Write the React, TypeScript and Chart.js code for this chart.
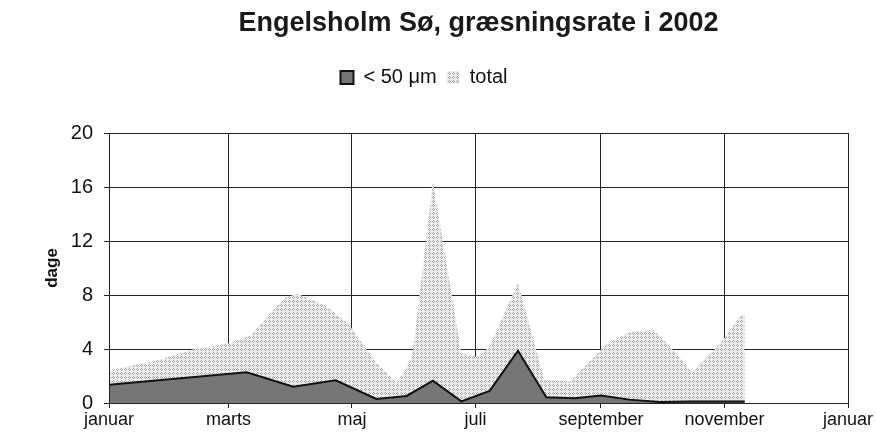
import React, { useEffect, useRef } from 'react';
import { Chart, registerables } from 'chart.js';

Chart.register(...registerables);

// x axis: day of year 2002 (0 = 1 januar)
const monthTicks = [0, 59, 120, 181, 243, 304, 365];
const monthLabels = ['januar', 'marts', 'maj', 'juli', 'september', 'november', 'januar'];
const yTicks = [0, 4, 8, 12, 16, 20];

// series "< 50 µm"
const smallDays = [0, 68, 91, 112, 132, 147, 160, 174, 188, 202, 216, 230, 243, 257, 272, 287, 314];
const smallValues = [1.35, 2.27, 1.2, 1.68, 0.3, 0.52, 1.65, 0.12, 0.9, 3.87, 0.42, 0.35, 0.55, 0.25, 0.08, 0.12, 0.12];

// series "total"
const totalDays = [0, 25, 42, 59, 70, 80, 87, 93, 107, 118, 132, 142, 147, 150, 160, 174, 182, 188, 202, 215, 228, 236, 246, 258, 269, 277, 288, 302, 312, 314];
const totalValues = [2.4, 3.2, 4.0, 4.4, 5.0, 6.7, 7.8, 8.1, 7.2, 5.9, 3.0, 1.5, 2.6, 3.7, 16.4, 3.7, 3.4, 4.2, 8.9, 1.7, 1.6, 2.9, 4.4, 5.3, 5.4, 4.2, 2.3, 4.4, 6.5, 6.6];

const FONT = "'Liberation Sans', Arial, sans-serif";

function makeDotPattern(ctx: CanvasRenderingContext2D): CanvasPattern | string {
  const tile = document.createElement('canvas');
  tile.width = 4;
  tile.height = 4;
  const t = tile.getContext('2d');
  if (!t) return '#dadada';
  t.fillStyle = '#ededed';
  t.fillRect(0, 0, 4, 4);
  t.fillStyle = '#a6a6a6';
  [[1, 0], [0, 1], [2, 1], [1, 2]].forEach(([x, y]) => t.fillRect(x, y, 1, 1));
  return ctx.createPattern(tile, 'repeat') || '#dadada';
}

export default function App() {
  const ref = useRef<HTMLCanvasElement>(null);

  useEffect(() => {
    const canvas = ref.current;
    if (!canvas) return;
    const ctx = canvas.getContext('2d');
    if (!ctx) return;
    const pattern = makeDotPattern(ctx);

    const frame = {
      id: 'frame',
      afterDraw(chart: any) {
        const c = chart.ctx;
        const a = chart.chartArea;
        c.save();
        c.strokeStyle = '#222';
        c.lineWidth = 1;
        c.strokeRect(Math.round(a.left) + 0.5, Math.round(a.top) + 0.5, Math.round(a.right - a.left), Math.round(a.bottom - a.top));
        c.restore();
      },
    };

    const chart = new Chart(canvas, {
      type: 'line',
      data: {
        datasets: [
          {
            label: '< 50 μm',
            data: smallDays.map((d, i) => ({ x: d, y: smallValues[i] })),
            backgroundColor: '#767676',
            borderColor: '#111',
            borderWidth: 2,
            fill: 'origin',
            pointRadius: 0,
            tension: 0,
          },
          {
            label: 'total',
            data: totalDays.map((d, i) => ({ x: d, y: totalValues[i] })),
            backgroundColor: pattern as any,
            borderColor: 'rgba(0,0,0,0)',
            borderWidth: 0,
            fill: 'origin',
            pointRadius: 0,
            tension: 0,
          },
        ],
      },
      options: {
        responsive: false,
        animation: false,
        events: [],
        layout: { padding: { left: 0, right: 28, top: 0, bottom: 0 } },
        plugins: {
          tooltip: { enabled: false },
          title: {
            display: true,
            text: 'Engelsholm Sø, græsningsrate i 2002',
            fullSize: false,
            color: '#1a1a1a',
            font: { family: FONT, size: 27, weight: 'bold' },
            padding: { top: 7.8, bottom: 17.3 },
          },
          subtitle: {
            display: true,
            text: '',
            weight: 500,
            font: { size: 10 },
            padding: { top: 0, bottom: 23.5 },
          },
          legend: {
            display: true,
            position: 'top',
            labels: {
              boxWidth: 13,
              boxHeight: 13,
              padding: 10,
              color: '#111',
              font: { family: FONT, size: 20 },
            },
          },
        },
        scales: {
          x: {
            type: 'linear',
            min: 0,
            max: 365,
            afterBuildTicks: (s: any) => {
              s.ticks = monthTicks.map((v) => ({ value: v }));
            },
            afterFit: (s: any) => {
              s.height = 39;
              s.paddingLeft = 0;
              s.paddingRight = 0;
            },
            ticks: {
              autoSkip: false,
              maxRotation: 0,
              padding: 1,
              color: '#111',
              font: { family: FONT, size: 18 },
              callback: (v: any) => monthLabels[monthTicks.indexOf(Number(v))] ?? '',
            },
            grid: { color: '#222', lineWidth: 1, tickLength: 5, drawTicks: true },
            border: { color: '#222', width: 1 },
          },
          y: {
            type: 'linear',
            min: 0,
            max: 20,
            afterBuildTicks: (s: any) => {
              s.ticks = yTicks.map((v) => ({ value: v }));
            },
            afterFit: (s: any) => {
              s.width = 109;
              s.paddingTop = 0;
              s.paddingBottom = 0;
            },
            ticks: {
              padding: 11,
              color: '#111',
              font: { family: FONT, size: 20 },
            },
            grid: { color: '#222', lineWidth: 1, tickLength: 5, drawTicks: true },
            border: { color: '#222', width: 1 },
            title: {
              display: true,
              text: 'dage',
              color: '#111',
              font: { family: FONT, size: 17, weight: 'bold' },
              padding: { top: 41.8, bottom: 0 },
            },
          },
        },
      },
      plugins: [frame],
    });

    return () => chart.destroy();
  }, []);

  return (
    <canvas
      ref={ref}
      width={876}
      height={442}
      style={{ display: 'block', position: 'fixed', left: 0, top: 0 }}
    />
  );
}
